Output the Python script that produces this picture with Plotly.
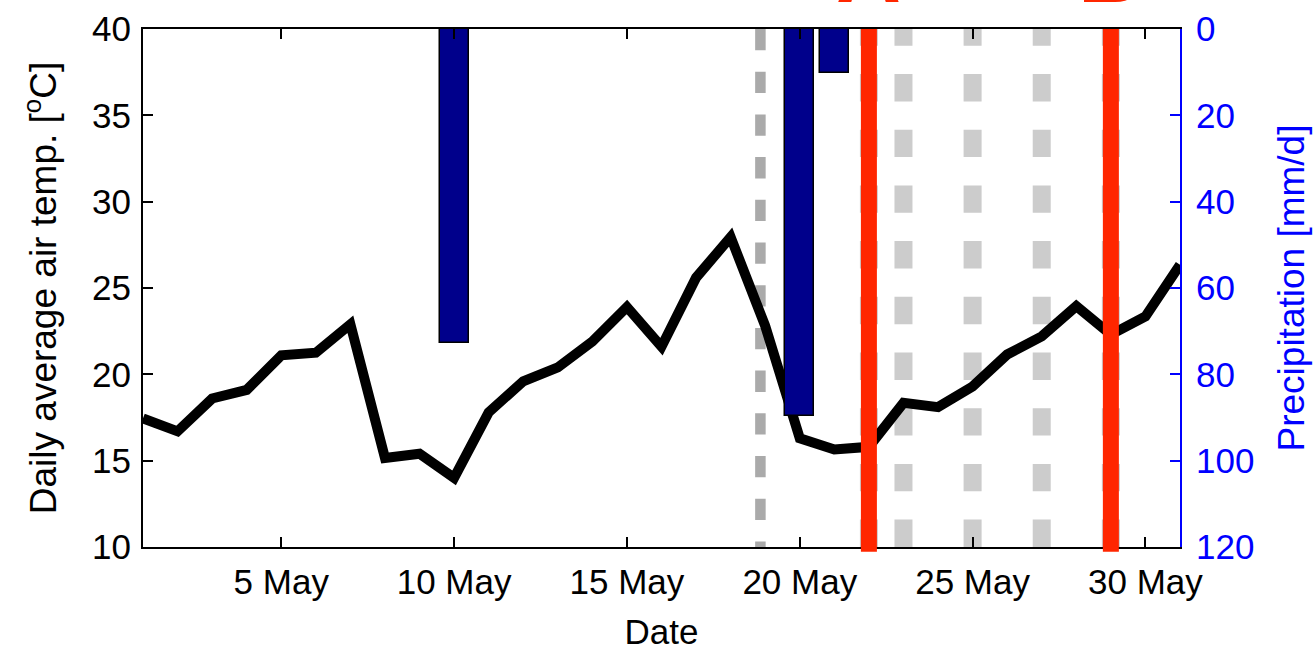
import pandas as pd
import plotly.graph_objects as go

# Daily mean air temperature, 1-31 May
days = pd.date_range("2013-05-01", "2013-05-31", freq="D")
temp_c = [17.45, 16.7, 18.6, 19.1, 21.1, 21.25, 22.9, 15.15, 15.4, 14.0,
          17.8, 19.6, 20.4, 21.9, 23.9, 21.6, 25.6, 27.95, 22.8, 16.3,
          15.65, 15.8, 18.35, 18.1, 19.3, 21.15, 22.2, 23.95, 22.3, 23.35,
          26.35]

# Daily precipitation (only rainy days)
rain_dates = pd.to_datetime(["2013-05-10", "2013-05-20", "2013-05-21"])
rain_mm = [72.7, 89.6, 10.1]

# Event markers
onset_time = pd.Timestamp("2013-05-18 20:40")
light_dates = pd.to_datetime(["2013-05-22", "2013-05-23", "2013-05-25",
                              "2013-05-27", "2013-05-29"])
event_dates = pd.to_datetime(["2013-05-22", "2013-05-29"])
event_labels = ["A", "B"]

tick_dates = pd.to_datetime(["2013-05-05", "2013-05-10", "2013-05-15",
                             "2013-05-20", "2013-05-25", "2013-05-30"])
tick_text = ["5 May", "10 May", "15 May", "20 May", "25 May", "30 May"]

FONT = "Liberation Sans, Arial, Helvetica, sans-serif"
RED = "#FF2600"
DAY_MS = 86400000

fig = go.Figure()

fig.add_trace(go.Scatter(
    x=days, y=temp_c, mode="lines",
    line=dict(color="black", width=10),
    showlegend=False, yaxis="y",
))

fig.add_trace(go.Bar(
    x=rain_dates, y=rain_mm, base=0, width=0.84 * DAY_MS,
    marker=dict(color="#00008B", line=dict(color="black", width=1.5)),
    showlegend=False, yaxis="y2",
))

shapes = []
# dark grey dashed marker
shapes.append(dict(type="line", xref="x", yref="y",
                   x0=onset_time, x1=onset_time, y0=40, y1=10,
                   line=dict(color="#AAAAAA", width=10.5, dash="21.3px,21.4px"),
                   layer="below"))
# light grey dashed markers
for d in light_dates:
    shapes.append(dict(type="line", xref="x", yref="y",
                       x0=d, x1=d, y0=10, y1=40,
                       line=dict(color="#CCCCCC", width=18, dash="27.4px,28.3px"),
                       layer="below"))
# red event lines
for d in event_dates:
    shapes.append(dict(type="line", xref="x", yref="paper",
                       x0=d, x1=d, y0=-0.009, y1=1,
                       line=dict(color=RED, width=16),
                       layer="above"))

annotations = []
for d, lab in zip(event_dates, event_labels):
    annotations.append(dict(x=d, y=1.011, xref="x", yref="paper",
                            text=f"<b>{lab}</b>", showarrow=False,
                            xanchor="center", yanchor="bottom",
                            font=dict(family=FONT, size=90, color=RED)))

fig.update_layout(
    width=1314, height=651,
    margin=dict(l=143, r=134, t=29, b=104, autoexpand=False),
    paper_bgcolor="white", plot_bgcolor="white",
    font=dict(family=FONT, size=35, color="black"),
    shapes=shapes, annotations=annotations,
    bargap=0,
    xaxis=dict(
        type="date", range=["2013-05-01", "2013-05-31"],
        tickvals=tick_dates, ticktext=tick_text,
        ticks="inside", ticklen=10, tickwidth=1.5, tickcolor="black",
        showline=True, linecolor="black", linewidth=2, mirror="ticks",
        showgrid=False, zeroline=False,
        tickfont=dict(size=35), ticklabelstandoff=3,
        title=dict(text="Date", font=dict(size=35), standoff=19),
    ),
    yaxis=dict(
        range=[10, 40], dtick=5,
        ticks="inside", ticklen=10, tickwidth=1.5, tickcolor="black",
        showline=True, linecolor="black", linewidth=2,
        showgrid=False, zeroline=False,
        tickfont=dict(size=35), ticklabelstandoff=3,
        title=dict(text="Daily average air temp. [<sup>o</sup>C]",
                   font=dict(size=37), standoff=24),
    ),
    yaxis2=dict(
        overlaying="y", side="right", range=[120, 0], dtick=20,
        ticks="inside", ticklen=10, tickwidth=1.5, tickcolor="#0000FF",
        showline=True, linecolor="#0000FF", linewidth=2,
        showgrid=False, zeroline=False,
        tickfont=dict(size=35, color="#0000FF"), ticklabelstandoff=7,
        title=dict(text="Precipitation [mm/d]",
                   font=dict(size=37, color="#0000FF"), standoff=25),
    ),
)

fig.write_html("out.html")
